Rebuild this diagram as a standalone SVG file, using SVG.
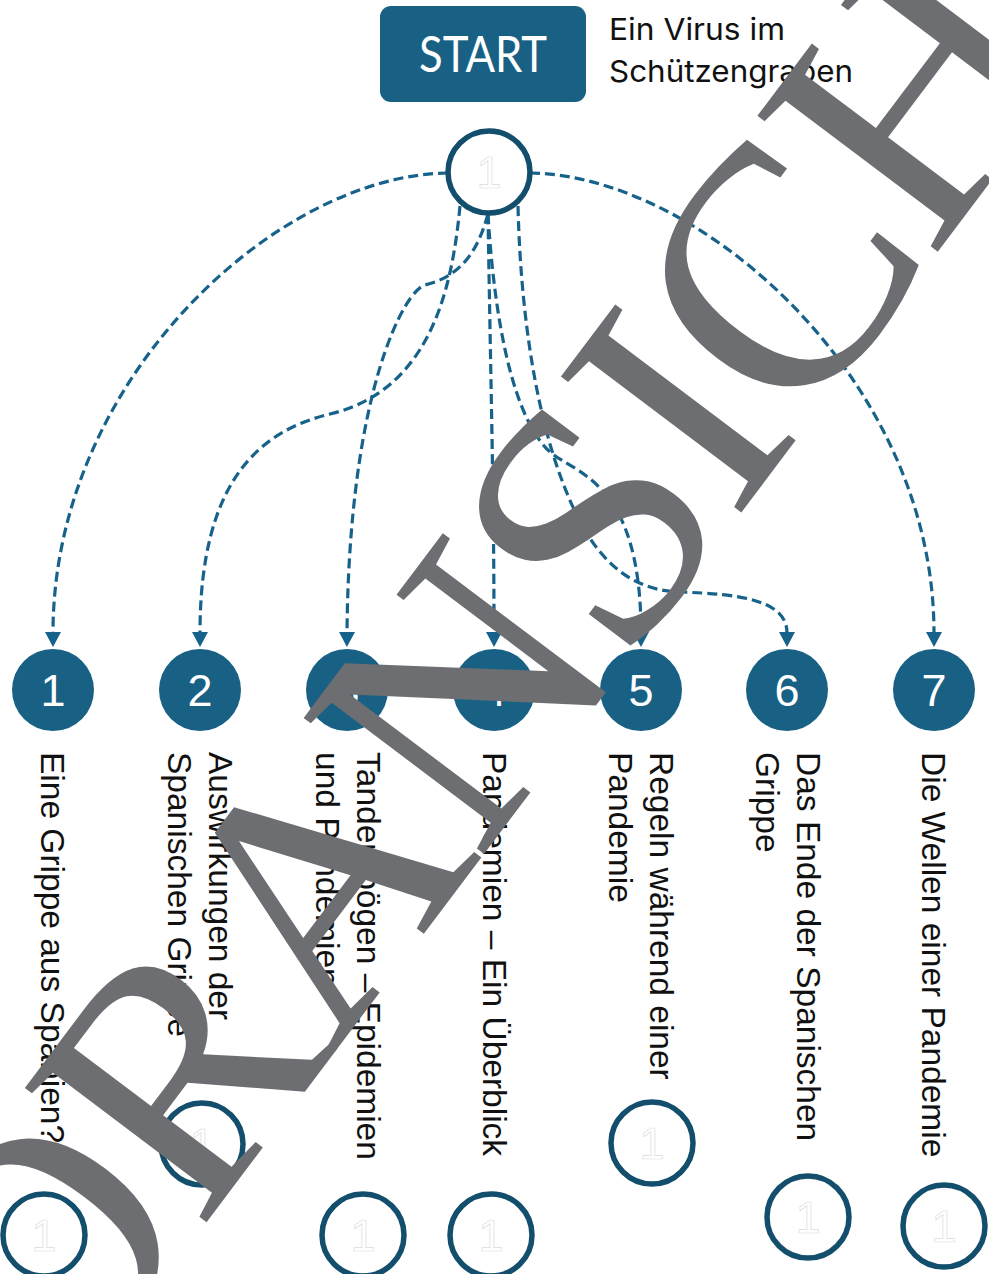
<svg xmlns="http://www.w3.org/2000/svg" width="989" height="1274" viewBox="0 0 989 1274">
<defs>
<style>
.node circle{fill:#186185}
.num{font-family:"Liberation Sans",Arial,sans-serif;font-size:45px;fill:#fff;text-anchor:middle}
.ring{fill:#fff;stroke:#134f6c;stroke-width:5.5}
.ghost{font-family:"Liberation Sans",Arial,sans-serif;font-size:45px;fill:#fff;stroke:#dcdcdc;stroke-width:0.7;text-anchor:middle}
.lbl{font-family:"Liberation Sans",Arial,sans-serif;font-size:33.5px;fill:#111}
.conn path{fill:none;stroke:#17628a;stroke-width:3.2;stroke-dasharray:10 5;marker-end:url(#arr)}
</style>
<marker id="arr" viewBox="0 -9 18 18" refX="1" refY="0" markerWidth="18" markerHeight="18" markerUnits="userSpaceOnUse" orient="auto">
<path d="M0,-8 L15,0 L0,8 z" fill="#17628a"/>
</marker>
</defs>
<rect width="989" height="1274" fill="#fff"/>

<g id="start">
<rect x="380" y="6" width="206" height="96" rx="11" fill="#186185"/>
<text x="483" y="72" font-family="Lato,'Liberation Sans',sans-serif" font-size="50" fill="#fff" text-anchor="middle" textLength="128" lengthAdjust="spacingAndGlyphs">START</text>
</g>
<g id="title">
<text font-family="Inter,'Liberation Sans',sans-serif" font-size="30" fill="#111"><tspan x="609" y="40" textLength="176" lengthAdjust="spacingAndGlyphs">Ein Virus im</tspan><tspan x="609" y="82" textLength="244" lengthAdjust="spacingAndGlyphs">Schützengraben</tspan></text>
</g>

<g class="conn" id="connectors">
<path d="M448,173 C276,175 53,380 53,633"/>
<path d="M460,206 C452,290 430,390 330,414 C260,431 200,480 200,633"/>
<path d="M488,214 C478,250 462,276 425,285 C405,290 349,390 347,633"/>
<path d="M488,214 C491,400 494,500 494,633"/>
<path d="M488,214 C495,330 515,420 550,452 C575,474 641,480 641,633"/>
<path d="M518,206 C521,330 540,420 560,475 C580,530 610,590 680,592 C740,594 787,600 787,633"/>
<path d="M530,173 C700,175 934,380 934,633"/>
</g>

<g id="top-node">
<circle class="ring" cx="489" cy="172" r="41"/>
<text class="ghost" x="489" y="188">1</text>
</g>

<g id="node1" class="node"><circle cx="53" cy="690" r="41"/><text class="num" x="53" y="706">1</text></g>
<g id="node2" class="node"><circle cx="200" cy="690" r="41"/><text class="num" x="200" y="706">2</text></g>
<g id="node3" class="node"><circle cx="347" cy="690" r="41"/><text class="num" x="347" y="706">3</text></g>
<g id="node4" class="node"><circle cx="494" cy="690" r="41"/><text class="num" x="494" y="706">4</text></g>
<g id="node5" class="node"><circle cx="641" cy="690" r="41"/><text class="num" x="641" y="706">5</text></g>
<g id="node6" class="node"><circle cx="787" cy="690" r="41"/><text class="num" x="787" y="706">6</text></g>
<g id="node7" class="node"><circle cx="934" cy="690" r="41"/><text class="num" x="934" y="706">7</text></g>

<g id="label1"><text class="lbl" transform="translate(41,752) rotate(90)">Eine Grippe aus Spanien?</text></g>
<g id="label2"><text class="lbl" transform="translate(209,752) rotate(90)"><tspan x="0" y="0">Auswirkungen der</tspan><tspan x="0" y="41">Spanischen Grippe</tspan></text></g>
<g id="label3"><text class="lbl" transform="translate(357,752) rotate(90)"><tspan x="0" y="0">Tandembögen – Epidemien</tspan><tspan x="0" y="41">und Pandemien</tspan></text></g>
<g id="label4"><text class="lbl" transform="translate(483,752) rotate(90)">Pandemien – Ein Überblick</text></g>
<g id="label5"><text class="lbl" transform="translate(650,752) rotate(90)"><tspan x="0" y="0">Regeln während einer</tspan><tspan x="0" y="41">Pandemie</tspan></text></g>
<g id="label6"><text class="lbl" transform="translate(797,752) rotate(90)"><tspan x="0" y="0">Das Ende der Spanischen</tspan><tspan x="0" y="41">Grippe</tspan></text></g>
<g id="label7"><text class="lbl" transform="translate(922,752) rotate(90)">Die Wellen einer Pandemie</text></g>

<g id="check1"><circle class="ring" cx="44" cy="1235" r="41"/><text class="ghost" x="44" y="1251">1</text></g>
<g id="check2"><circle class="ring" cx="202" cy="1144" r="41"/><text class="ghost" x="202" y="1160">1</text></g>
<g id="check3"><circle class="ring" cx="363" cy="1235" r="41"/><text class="ghost" x="363" y="1251">1</text></g>
<g id="check4"><circle class="ring" cx="491" cy="1235" r="41"/><text class="ghost" x="491" y="1251">1</text></g>
<g id="check5"><circle class="ring" cx="652" cy="1143" r="41"/><text class="ghost" x="652" y="1159">1</text></g>
<g id="check6"><circle class="ring" cx="808" cy="1217" r="41"/><text class="ghost" x="808" y="1233">1</text></g>
<g id="check7"><circle class="ring" cx="944" cy="1226" r="41"/><text class="ghost" x="944" y="1242">1</text></g>

<g id="watermark">
<text transform="translate(-91,1617) rotate(-53)" font-family="'Liberation Serif','Times New Roman',serif" font-size="345" letter-spacing="-8" fill="#6d6e71">VORANSICHT</text>
</g>
</svg>
